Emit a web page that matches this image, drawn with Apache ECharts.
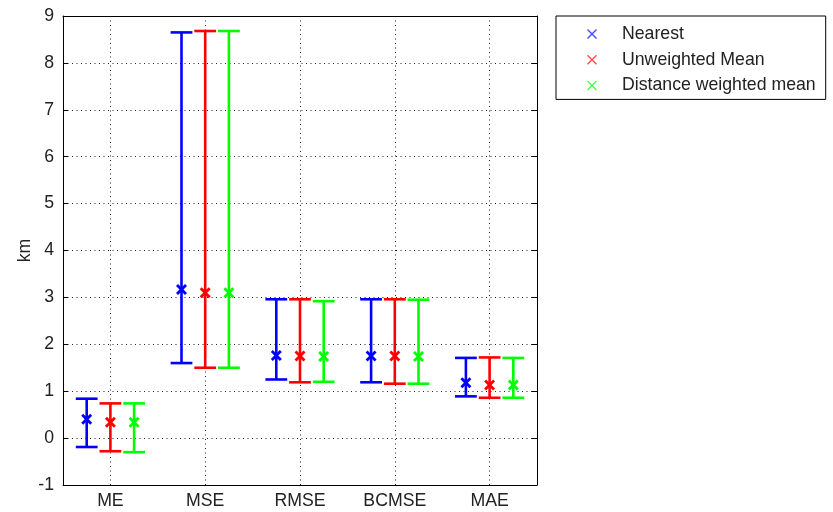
<!DOCTYPE html>
<html><head><meta charset="utf-8">
<script src="https://cdn.jsdelivr.net/npm/echarts@6/dist/echarts.min.js"></script>
<style>html,body{margin:0;padding:0;background:#fff}#c{width:833px;height:512px}</style>
</head><body><div id="c"></div>
<script>
const categories = ['ME', 'MSE', 'RMSE', 'BCMSE', 'MAE'];
const seriesNames = ['Nearest', 'Unweighted Mean', 'Distance weighted mean'];
const seriesColors = ['#0000ff', '#ff0000', '#00ff00'];
const nearestMid  = [0.40, 3.17, 1.76, 1.75, 1.18];
const nearestLow  = [-0.19, 1.60, 1.25, 1.19, 0.89];
const nearestHigh = [0.84, 8.65, 2.96, 2.96, 1.71];
const unweightedMid  = [0.34, 3.10, 1.75, 1.75, 1.13];
const unweightedLow  = [-0.28, 1.50, 1.19, 1.16, 0.86];
const unweightedHigh = [0.74, 8.68, 2.96, 2.96, 1.72];
const distanceMid  = [0.34, 3.10, 1.74, 1.74, 1.13];
const distanceLow  = [-0.30, 1.50, 1.20, 1.16, 0.86];
const distanceHigh = [0.74, 8.68, 2.92, 2.95, 1.71];
const yMin = -1, yMax = 9, yInterval = 1;
const yName = 'km';

const groups = [
  [nearestMid, nearestLow, nearestHigh],
  [unweightedMid, unweightedLow, unweightedHigh],
  [distanceMid, distanceLow, distanceHigh]
];
const offsets = [-0.25, 0, 0.25];

function makeRender(offsetFrac) {
  return function (params, api) {
    const idx = api.value(0);
    const mid = api.coord([idx, api.value(1)]);
    const lo = api.coord([idx, api.value(2)]);
    const hi = api.coord([idx, api.value(3)]);
    const band = api.size([1, 0])[0];
    const x = mid[0] + band * offsetFrac;
    const cap = band * 0.115;
    const m = 4.5;
    const color = api.visual('color');
    const style = { stroke: color, lineWidth: 2.6, fill: null };
    const mstyle = { stroke: color, lineWidth: 2.8, fill: null };
    return {
      type: 'group',
      children: [
        { type: 'line', shape: { x1: x, y1: hi[1], x2: x, y2: lo[1] }, style: style },
        { type: 'line', shape: { x1: x - cap, y1: hi[1], x2: x + cap, y2: hi[1] }, style: style },
        { type: 'line', shape: { x1: x - cap, y1: lo[1], x2: x + cap, y2: lo[1] }, style: style },
        { type: 'line', shape: { x1: x - m, y1: mid[1] - m, x2: x + m, y2: mid[1] + m }, style: mstyle },
        { type: 'line', shape: { x1: x - m, y1: mid[1] + m, x2: x + m, y2: mid[1] - m }, style: mstyle }
      ]
    };
  };
}

const crossIcon = 'path://M0,1L1,0L5,4L9,0L10,1L6,5L10,9L9,10L5,6L1,10L0,9L4,5Z';

const series = groups.map(function (g, s) {
  return {
    name: seriesNames[s],
    type: 'custom',
    renderItem: makeRender(offsets[s]),
    itemStyle: { color: seriesColors[s] },
    encode: { x: 0, y: [1, 2, 3] },
    data: categories.map(function (c, i) { return [i, g[0][i], g[1][i], g[2][i]]; }),
    z: 3
  };
});

const font = '"Liberation Sans", Arial, sans-serif';
const fs = 17.7;
const axisLineStyle = { color: '#000', width: 1 };
const dotted = { color: '#222', width: 1, type: [1, 3.5] };

const option = {
  backgroundColor: '#fff',
  animation: false,
  grid: { left: 63, right: 296, top: 16, bottom: 27, containLabel: false },
  legend: {
    left: 556, top: 16,
    orient: 'vertical',
    padding: [9, 10, 5, 31],
    itemGap: 7.7,
    itemWidth: 10, itemHeight: 10,
    borderColor: '#000', borderWidth: 1,
    backgroundColor: '#fff',
    textStyle: { fontFamily: font, fontSize: fs, color: '#222', lineHeight: 18, padding: [0, 0, 0, 20] },
    data: seriesNames.map(function (n, s) {
      return { name: n, icon: crossIcon, itemStyle: { color: seriesColors[s], opacity: 0.7 } };
    })
  },
  xAxis: [{
    type: 'category', data: categories, boundaryGap: true,
    axisLine: { onZero: false, lineStyle: axisLineStyle },
    axisTick: { inside: true, alignWithLabel: true, length: 5, lineStyle: axisLineStyle },
    axisLabel: { fontFamily: font, fontSize: fs, color: '#222', margin: 7 },
    splitLine: { show: true, alignWithLabel: true, interval: 0, lineStyle: dotted }
  }, {
    type: 'category', data: categories, boundaryGap: true, position: 'top',
    axisLine: { onZero: false, lineStyle: axisLineStyle },
    axisTick: { inside: true, alignWithLabel: true, length: 5, lineStyle: axisLineStyle },
    axisLabel: { show: false },
    splitLine: { show: false }
  }],
  yAxis: [{
    type: 'value', min: yMin, max: yMax, interval: yInterval,
    name: yName, nameLocation: 'middle', nameGap: 29, nameMoveOverlap: false,
    nameTextStyle: { fontFamily: font, fontSize: fs, color: '#222' },
    axisLine: { show: true, onZero: false, lineStyle: axisLineStyle },
    axisTick: { show: true, inside: true, length: 5, lineStyle: axisLineStyle },
    axisLabel: { fontFamily: font, fontSize: fs, color: '#222', margin: 9 },
    splitLine: { show: true, lineStyle: dotted }
  }, {
    type: 'value', min: yMin, max: yMax, interval: yInterval, position: 'right',
    axisLine: { show: true, onZero: false, lineStyle: axisLineStyle },
    axisTick: { show: true, inside: true, length: 5, lineStyle: axisLineStyle },
    axisLabel: { show: false },
    splitLine: { show: false }
  }],
  series: series
};

const chart = echarts.init(document.getElementById('c'), null, { renderer: 'canvas' });
chart.setOption(option);
</script>
</body></html>
